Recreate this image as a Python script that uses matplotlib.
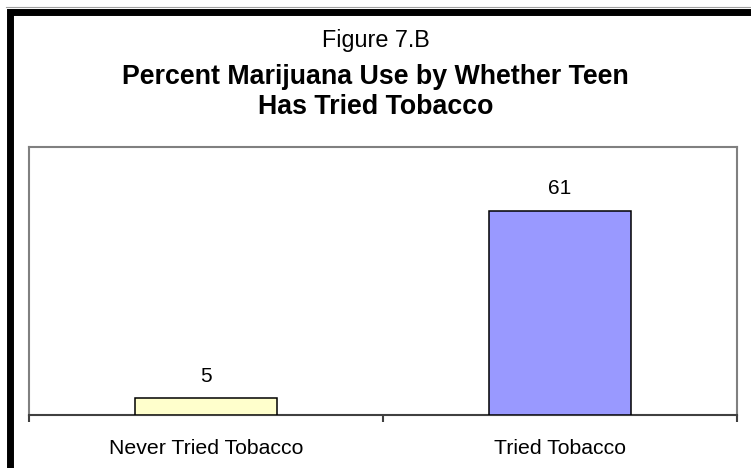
import matplotlib.pyplot as plt
from matplotlib.patches import Rectangle
from matplotlib.lines import Line2D

plt.rcParams['font.family'] = ['Liberation Sans', 'DejaVu Sans']

categories = ["Never Tried Tobacco", "Tried Tobacco"]
values = [5, 61]
bar_colors = ["#FFFFCC", "#9999FF"]
fig_title = "Figure 7.B"
chart_title = "Percent Marijuana Use by Whether Teen\nHas Tried Tobacco"

W, H = 751, 468
fig = plt.figure(figsize=(W / 100, H / 100), dpi=100)
ax = fig.add_axes([29 / W, 1 - 415 / H, (737 - 29) / W, (415 - 147) / H])

x = list(range(len(categories)))
bars = ax.bar(x, values, width=0.4, color=bar_colors, edgecolor="black", linewidth=1.1, zorder=3)
for b, v in zip(bars, values):
    ax.annotate(str(v), (b.get_x() + b.get_width() / 2, v), xytext=(0, 9),
                textcoords="offset points", ha="center", va="bottom", fontsize=15)

ax.set_xlim(-0.5, len(categories) - 0.5)
ax.set_ylim(0, 80)
ax.set_yticks([])

# boundary ticks, labels in the middle of each category
ax.set_xticks([i - 0.5 for i in range(len(categories) + 1)])
ax.set_xticklabels([])
ax.set_xticks(x, minor=True)
ax.set_xticklabels(categories, minor=True, fontsize=15.3)
ax.tick_params(axis="x", which="major", length=5, width=1.5, color="#404040", direction="out")
ax.tick_params(axis="x", which="minor", length=0, pad=17)

for side in ["left", "top", "right"]:
    ax.spines[side].set_color("#808080")
    ax.spines[side].set_linewidth(1.5)
ax.spines["bottom"].set_color("#404040")
ax.spines["bottom"].set_linewidth(1.5)

fig.text(0.5, 1 - 40 / H, fig_title, ha="center", va="center", fontsize=16.8)
fig.text(0.5, 1 - 92 / H, chart_title, ha="center", va="center", fontsize=19.3,
         fontweight="bold", linespacing=1.25)

# outer black frame (right and bottom edges fall off the picture)
fig.patches.append(Rectangle((9.5 / W, -0.1), 1.2, 1 - 11.5 / H + 0.1, transform=fig.transFigure,
                             fill=False, edgecolor="black", linewidth=5))
fig.lines.append(Line2D([6 / W, 1], [1 - 7 / H, 1 - 7 / H], transform=fig.transFigure,
                        color="#a0a0a0", linewidth=0.8))

fig.savefig("out.png", dpi=100)
